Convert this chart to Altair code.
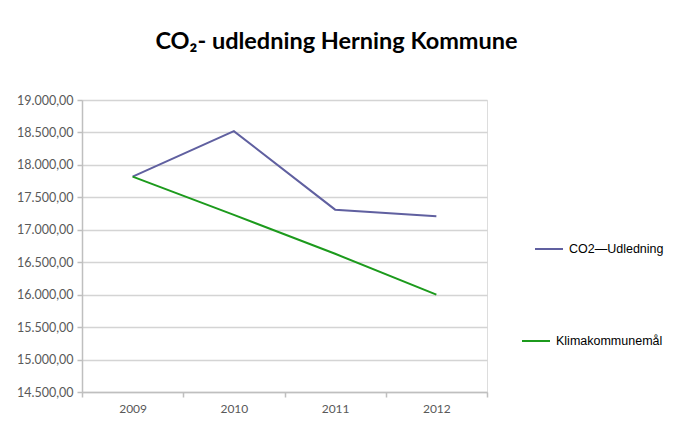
import altair as alt
import pandas as pd

years = ["2009", "2010", "2011", "2012"]
co2_udledning = [17820, 18520, 17310, 17210]
klimamaal = [17820, 17230, 16630, 16000]

series1 = "CO2\u2014Udledning"
series2 = "Klimakommunemål"

df1 = pd.DataFrame({"year": years, "value": co2_udledning, "serie": series1})
df2 = pd.DataFrame({"year": years, "value": klimamaal, "serie": series2})

W, H = 405, 292

x_enc = alt.X("year:N", sort=years, title=None,
              scale=alt.Scale(paddingInner=0, paddingOuter=0),
              axis=alt.Axis(labelAngle=0, tickBand="extent", grid=False,
                            domainColor="#bfbfbf", domainWidth=1.5,
                            tickColor="#bfbfbf", tickWidth=1.5, tickSize=5,
                            labelPadding=6, labelFont="Lato", labelFontSize=12,
                            labelColor="#595959"))
y_enc = alt.Y("value:Q", title=None,
              scale=alt.Scale(domain=[14500, 19000], nice=False, zero=False),
              axis=alt.Axis(values=list(range(14500, 19001, 500)), format=",.2f",
                            grid=True, gridColor="#d4d4d4", gridWidth=1.5,
                            domainColor="#bfbfbf", domainWidth=1.5,
                            tickColor="#bfbfbf", tickWidth=1.5, tickSize=5,
                            labelPadding=4, labelFont="Lato", labelFontSize=12.5,
                            labelColor="#595959"))

def legend(lx, ly):
    return alt.Legend(title=None, orient="none", legendX=lx, legendY=ly,
                      symbolType="stroke", symbolSize=784, symbolStrokeWidth=2,
                      labelFont="Liberation Sans", labelFontSize=12.5,
                      labelColor="#000000", labelOffset=5)

line1 = alt.Chart(df1).mark_line(strokeWidth=2).encode(
    x=x_enc, y=y_enc,
    color=alt.Color("serie:N", scale=alt.Scale(domain=[series1], range=["#6060a0"]),
                    legend=legend(452, 134)),
)
line2 = alt.Chart(df2).mark_line(strokeWidth=2).encode(
    x=x_enc, y=y_enc,
    stroke=alt.Stroke("serie:N", scale=alt.Scale(domain=[series2], range=["#1c9a1c"]),
                      legend=legend(439, 226)),
)

chart = alt.layer(line1, line2).resolve_scale(
    color="independent", stroke="independent"
).properties(
    width=W, height=H,
    autosize=alt.AutoSizeParams(type="none"),
    padding={"left": 74, "top": 92, "right": 178, "bottom": 25},
    title=alt.TitleParams("CO\u2082- udledning Herning Kommune", font="Lato",
                          fontSize=23.5, fontWeight="bold", color="#000000",
                          anchor="middle", dx=52, offset=22, baseline="alphabetic"),
).configure_view(stroke=None).configure(
    locale={"number": {"decimal": ",", "thousands": ".", "grouping": [3],
                       "currency": ["", " kr."]}},
    background="white",
)

chart.save("out.html", embed_options={"renderer": "svg", "actions": False})
